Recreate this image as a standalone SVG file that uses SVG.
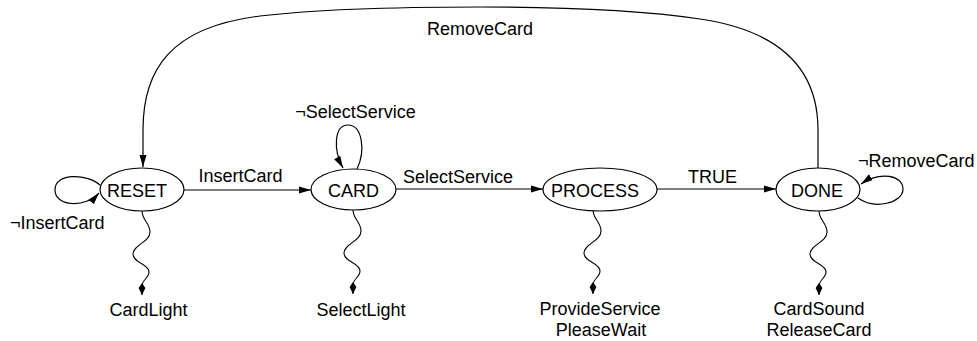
<svg xmlns="http://www.w3.org/2000/svg" xmlns:xlink="http://www.w3.org/1999/xlink" width="977" height="341" viewBox="0 0 977 341">
  <style>
    text { font-family: "Liberation Sans", Arial, sans-serif; font-size: 18px; fill: #000; }
    .state { fill: #fff; stroke: #000; stroke-width: 1.2; }
    .edge { fill: none; stroke: #000; stroke-width: 1.2; marker-end: url(#arrow); }
    .output { fill: none; stroke: #000; stroke-width: 1.1; marker-end: url(#kite); }
    .mid { text-anchor: middle; }
  </style>
  <defs>
    <marker id="arrow" markerUnits="userSpaceOnUse" markerWidth="13" markerHeight="9" refX="12" refY="4" orient="auto">
      <path d="M0,0.5 L12,4 L0,7.5 z" fill="#000"/>
    </marker>
    <marker id="kite" markerUnits="userSpaceOnUse" markerWidth="13" markerHeight="9" refX="12" refY="4" orient="auto">
      <path d="M0,4 L5,0.6 L12,4 L5,7.4 z" fill="#000"/>
    </marker>
    <!-- wavy output arrow, drawn from the bottom of a state downwards -->
    <path id="squiggle" d="M0,0 C0,9 8,12 8,21 C8,31 -9,34 -9,43 C-9,52 7,53 7,61 C7,67 0,69 0,75 L0,84"/>
  </defs>

  <g id="connectors">
    <!-- RemoveCard: DONE back to RESET over the top -->
    <path class="edge" d="M818,168 L818,130 C818,75 788,32 700,19 C640,10 560,7 480,7 C400,7 320,9 260,16 C170,27 143,70 143,130 L143,167"/>
    <!-- forward transitions -->
    <path class="edge" d="M184,190 L311,190"/>
    <path class="edge" d="M396,189 L543,189"/>
    <path class="edge" d="M657,189 L776,189"/>
    <!-- self loops -->
    <path class="edge" d="M100,185 C88,174 55,172 55,190 C55,207 86,208 99,193"/>
    <path class="edge" d="M357,169 C366,150 362,125 348,125 C334,125 333,150 343,168"/>
    <path class="edge" d="M858,198 C875,210 903,203 903,189 C903,175 880,171 861,184"/>
    <!-- outputs -->
    <use xlink:href="#squiggle" class="output" x="142" y="211"/>
    <use xlink:href="#squiggle" class="output" x="353" y="210"/>
    <use xlink:href="#squiggle" class="output" x="593" y="210"/>
    <use xlink:href="#squiggle" class="output" x="819" y="211"/>
  </g>

  <g id="labels">
    <text class="mid" x="480" y="35">RemoveCard</text>
    <text class="mid" x="240.5" y="182">InsertCard</text>
    <text class="mid" x="458" y="183">SelectService</text>
    <text class="mid" x="712.5" y="183">TRUE</text>
    <text x="10" y="229">¬InsertCard</text>
    <text class="mid" x="355.5" y="118">¬SelectService</text>
    <text x="858" y="167">¬RemoveCard</text>
    <text class="mid" x="148.5" y="316">CardLight</text>
    <text class="mid" x="361" y="316">SelectLight</text>
    <text class="mid" x="600" y="315">ProvideService</text>
    <text class="mid" x="601" y="336">PleaseWait</text>
    <text class="mid" x="819" y="315">CardSound</text>
    <text class="mid" x="819" y="336">ReleaseCard</text>
  </g>

  <g id="RESET">
    <ellipse class="state" cx="142" cy="189.5" rx="42" ry="21.5"/>
    <text class="mid" x="137" y="197">RESET</text>
  </g>
  <g id="CARD">
    <ellipse class="state" cx="353.5" cy="189.5" rx="42.5" ry="20.5"/>
    <text class="mid" x="353.5" y="197">CARD</text>
  </g>
  <g id="PROCESS">
    <ellipse class="state" cx="600" cy="189.5" rx="57" ry="21.5"/>
    <text class="mid" x="595" y="197">PROCESS</text>
  </g>
  <g id="DONE">
    <ellipse class="state" cx="818" cy="189.5" rx="42" ry="21.5"/>
    <text class="mid" x="817" y="197">DONE</text>
  </g>
</svg>
